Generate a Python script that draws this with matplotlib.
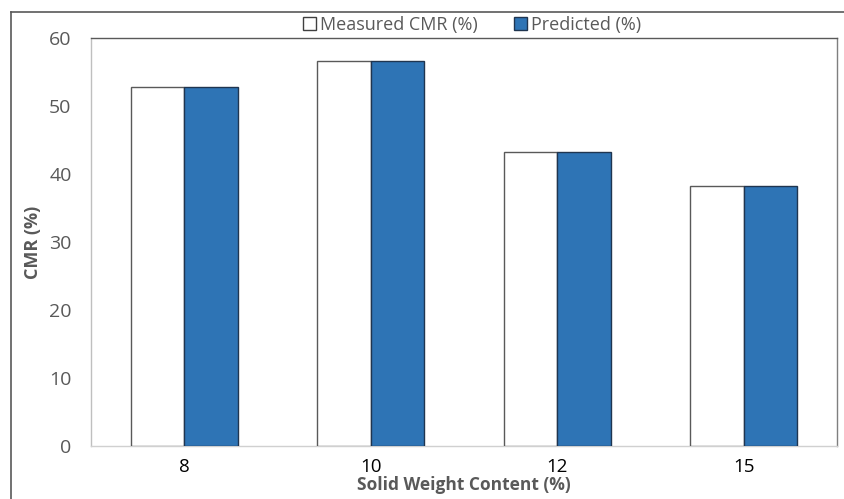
import numpy as np
import matplotlib.pyplot as plt
from matplotlib.lines import Line2D
from matplotlib.patches import Patch

plt.rcParams['font.family'] = ['Open Sans', 'DejaVu Sans']

# --- data ---
categories = ['8', '10', '12', '15']
measured = [52.8, 56.6, 43.2, 38.3]
predicted = [52.8, 56.6, 43.2, 38.3]
y_ticks = [0, 10, 20, 30, 40, 50, 60]

BLUE = '#2E74B5'
GRAY_TXT = '#595959'

fig = plt.figure(figsize=(8.44, 4.99), dpi=100)
ax = fig.add_axes([91 / 844, 53 / 499, 746 / 844, 408 / 499])

x = np.arange(len(categories))
w = 0.287
ax.bar(x - w / 2, measured, w, color='white', edgecolor='#595959', linewidth=1.0,
       label='Measured CMR (%)', zorder=3)
ax.bar(x + w / 2, predicted, w, color=BLUE, edgecolor='#1F3550', linewidth=1.0,
       label='Predicted (%)', zorder=3)

ax.set_xlim(-0.5, len(categories) - 0.5)
ax.set_ylim(0, 60)
ax.set_yticks(y_ticks)
ax.set_xticks(x)
ax.set_xticklabels(categories, fontsize=13.5, color='black')
ax.tick_params(axis='y', length=0, pad=14, labelsize=14, labelcolor=GRAY_TXT)
ax.tick_params(axis='x', length=0, pad=9)

ax.spines['top'].set_color('#595959')
ax.spines['right'].set_color('#7f7f7f')
ax.spines['left'].set_color('#bfbfbf')
ax.spines['bottom'].set_color('#d0d0d0')
for s in ax.spines.values():
    s.set_linewidth(1.0)

ax.set_ylabel('CMR (%)', fontsize=13, fontweight='bold', color=GRAY_TXT, labelpad=5)
ax.set_xlabel('Solid Weight Content (%)', fontsize=12.5, fontweight='bold',
              color=GRAY_TXT, labelpad=0)

# legend above the plot area
handles = [Patch(facecolor='white', edgecolor='#404040', label='Measured CMR (%)'),
           Patch(facecolor=BLUE, edgecolor='#1F3550', label='Predicted (%)')]
leg = fig.legend(handles=handles, loc='center', bbox_to_anchor=(472 / 844, 1 - 25 / 499),
                 ncol=2, frameon=False, fontsize=13, handlelength=0.75, handleheight=0.75,
                 handletextpad=0.2, columnspacing=2.0)
for t in leg.get_texts():
    t.set_color(GRAY_TXT)

# outer chart-area border (partly cropped in the reference)
fig.add_artist(Line2D([11 / 844, 11 / 844], [0, 1 - 12 / 499], color='#595959', lw=1.2))
fig.add_artist(Line2D([11 / 844, 1], [1 - 12 / 499, 1 - 12 / 499], color='#595959', lw=1.2))

fig.savefig('out.png', dpi=100)
